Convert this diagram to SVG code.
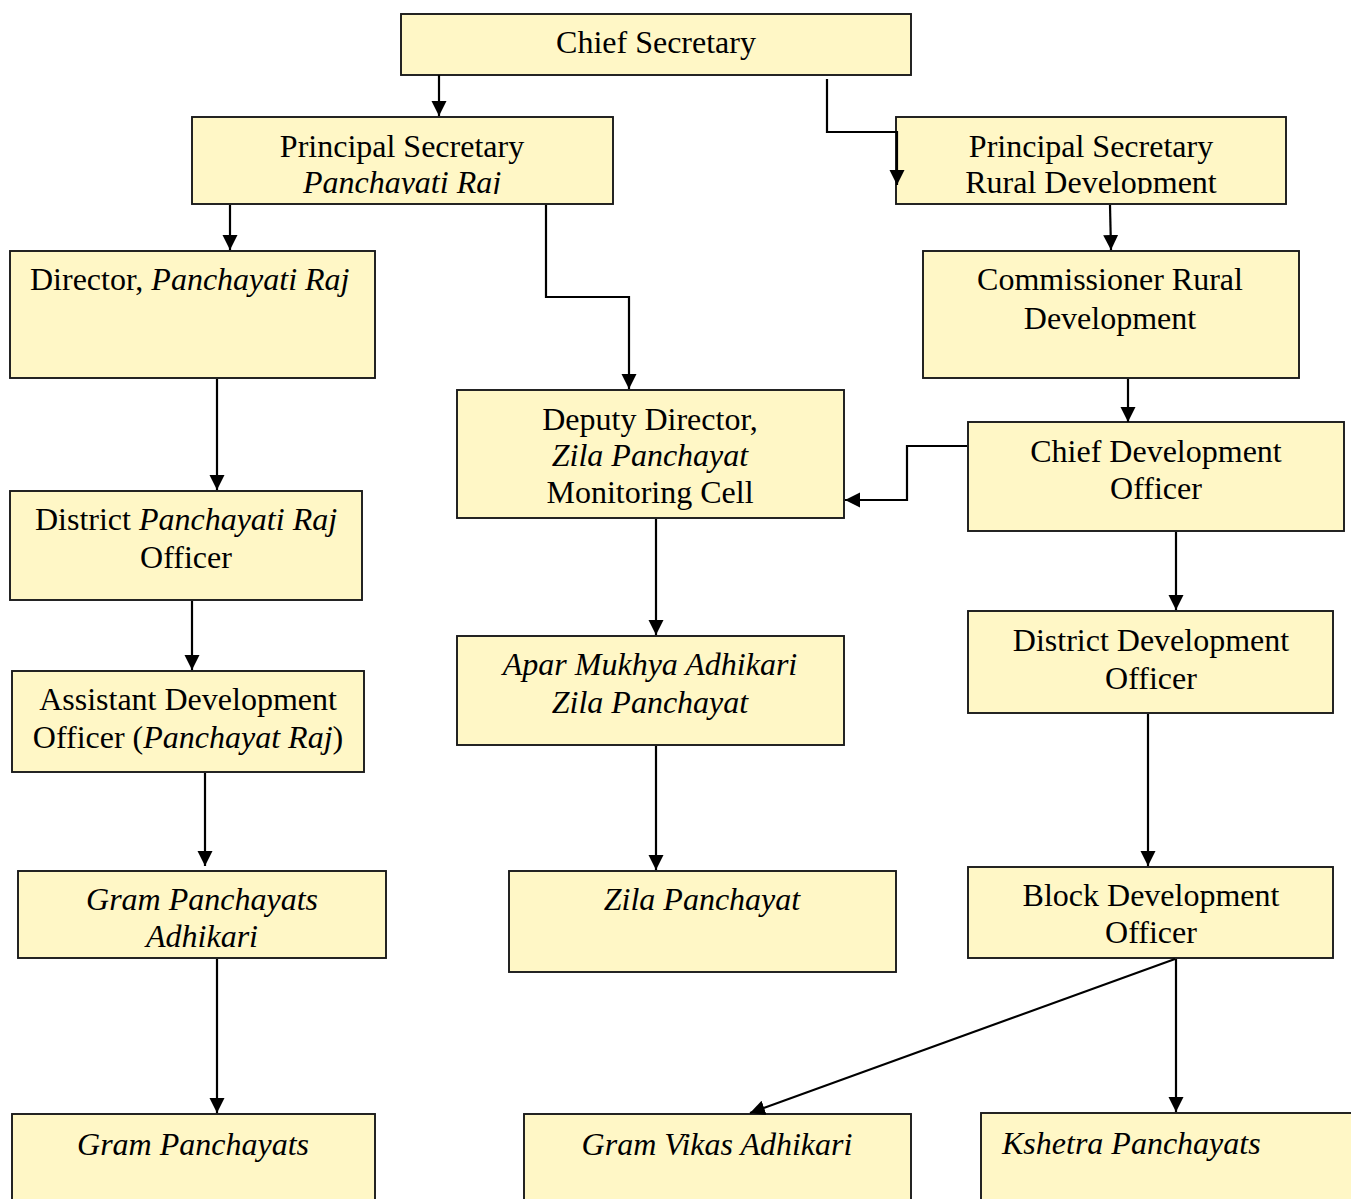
<svg xmlns="http://www.w3.org/2000/svg" width="1351" height="1199" viewBox="0 0 1351 1199">
<style>
.box{fill:#FFF7C6;stroke:#1a1a1a;stroke-width:1.9}
.t{font-family:"Liberation Serif","Times New Roman",serif;font-size:32px;fill:#000;text-anchor:middle}
.l{text-anchor:start}
.i{font-style:italic}
.c{fill:none;stroke:#000;stroke-width:2.2}
</style>
<defs>
<marker id="ah" markerUnits="userSpaceOnUse" markerWidth="17" markerHeight="17" refX="15" refY="7.5" orient="auto">
<path d="M0,0 L15,7.5 L0,15 z" fill="#000"/>
</marker>
<clipPath id="cp1"><rect x="192" y="117" width="421" height="77"/></clipPath>
<clipPath id="cp2"><rect x="896" y="117" width="390" height="77"/></clipPath>
</defs>
<rect width="1351" height="1199" fill="#fff"/>
<g id="chief-secretary">
<rect class="box" x="401" y="14" width="510" height="61"/>
<text class="t" x="656" y="53">Chief Secretary</text>
</g>
<g id="ps-panchayati-raj">
<rect class="box" x="192" y="117" width="421" height="87"/>
<g clip-path="url(#cp1)">
<text class="t" x="402" y="157">Principal Secretary</text>
<text class="t i" x="402" y="193">Panchayati Raj</text>
</g>
</g>
<g id="ps-rural-development">
<rect class="box" x="896" y="117" width="390" height="87"/>
<g clip-path="url(#cp2)">
<text class="t" x="1091" y="157">Principal Secretary</text>
<text class="t" x="1091" y="193">Rural Development</text>
</g>
</g>
<g id="director-pr">
<rect class="box" x="10" y="251" width="365" height="127"/>
<text class="t l" x="30" y="290">Director, <tspan class="i">Panchayati Raj</tspan></text>
</g>
<g id="commissioner-rd">
<rect class="box" x="923" y="251" width="376" height="127"/>
<text class="t" x="1110" y="290">Commissioner Rural</text>
<text class="t" x="1110" y="329">Development</text>
</g>
<g id="deputy-director">
<rect class="box" x="457" y="390" width="387" height="128"/>
<text class="t" x="650" y="430">Deputy Director,</text>
<text class="t i" x="650" y="466">Zila Panchayat</text>
<text class="t" x="650" y="503">Monitoring Cell</text>
</g>
<g id="cdo">
<rect class="box" x="968" y="422" width="376" height="109"/>
<text class="t" x="1156" y="462">Chief Development</text>
<text class="t" x="1156" y="499">Officer</text>
</g>
<g id="dpro">
<rect class="box" x="10" y="491" width="352" height="109"/>
<text class="t" x="186" y="530">District <tspan class="i">Panchayati Raj</tspan></text>
<text class="t" x="186" y="568">Officer</text>
</g>
<g id="apar-mukhya">
<rect class="box" x="457" y="636" width="387" height="109"/>
<text class="t i" x="650" y="675">Apar Mukhya Adhikari</text>
<text class="t i" x="650" y="713">Zila Panchayat</text>
</g>
<g id="ddo">
<rect class="box" x="968" y="611" width="365" height="102"/>
<text class="t" x="1151" y="651">District Development</text>
<text class="t" x="1151" y="689">Officer</text>
</g>
<g id="ado">
<rect class="box" x="12" y="671" width="352" height="101"/>
<text class="t" x="188" y="710">Assistant Development</text>
<text class="t" x="188" y="748">Officer (<tspan class="i">Panchayat Raj</tspan>)</text>
</g>
<g id="gp-adhikari">
<rect class="box" x="18" y="871" width="368" height="87"/>
<text class="t i" x="202" y="910">Gram Panchayats</text>
<text class="t i" x="202" y="947">Adhikari</text>
</g>
<g id="zila-panchayat">
<rect class="box" x="509" y="871" width="387" height="101"/>
<text class="t i" x="702" y="910">Zila Panchayat</text>
</g>
<g id="bdo">
<rect class="box" x="968" y="867" width="365" height="91"/>
<text class="t" x="1151" y="906">Block Development</text>
<text class="t" x="1151" y="943">Officer</text>
</g>
<g id="gram-panchayats">
<rect class="box" x="12" y="1114" width="363" height="100"/>
<text class="t i" x="193" y="1155">Gram Panchayats</text>
</g>
<g id="gram-vikas-adhikari">
<rect class="box" x="524" y="1114" width="387" height="100"/>
<text class="t i" x="717" y="1155">Gram Vikas Adhikari</text>
</g>
<g id="kshetra-panchayats">
<rect class="box" x="981" y="1113" width="380" height="100"/>
<text class="t i l" x="1002" y="1154">Kshetra Panchayats</text>
</g>
<g id="connectors">
<path class="c" d="M439,75 V116" marker-end="url(#ah)"/>
<path class="c" d="M827,79 V132 H897 V185" marker-end="url(#ah)"/>
<path class="c" d="M1110,205 L1111,250" marker-end="url(#ah)"/>
<path class="c" d="M230,205 V250" marker-end="url(#ah)"/>
<path class="c" d="M546,205 V297 H629 V389" marker-end="url(#ah)"/>
<path class="c" d="M217,379 V490" marker-end="url(#ah)"/>
<path class="c" d="M1128,379 V422" marker-end="url(#ah)"/>
<path class="c" d="M967,446 H907 V500 H845" marker-end="url(#ah)"/>
<path class="c" d="M1176,532 V610" marker-end="url(#ah)"/>
<path class="c" d="M192,601 V670" marker-end="url(#ah)"/>
<path class="c" d="M656,519 V635" marker-end="url(#ah)"/>
<path class="c" d="M205,773 V866" marker-end="url(#ah)"/>
<path class="c" d="M656,746 V870" marker-end="url(#ah)"/>
<path class="c" d="M1148,714 V866" marker-end="url(#ah)"/>
<path class="c" d="M217,959 V1113" marker-end="url(#ah)"/>
<path class="c" d="M1175,959 L750,1113" marker-end="url(#ah)"/>
<path class="c" d="M1176,959 V1112" marker-end="url(#ah)"/>
</g>
</svg>
